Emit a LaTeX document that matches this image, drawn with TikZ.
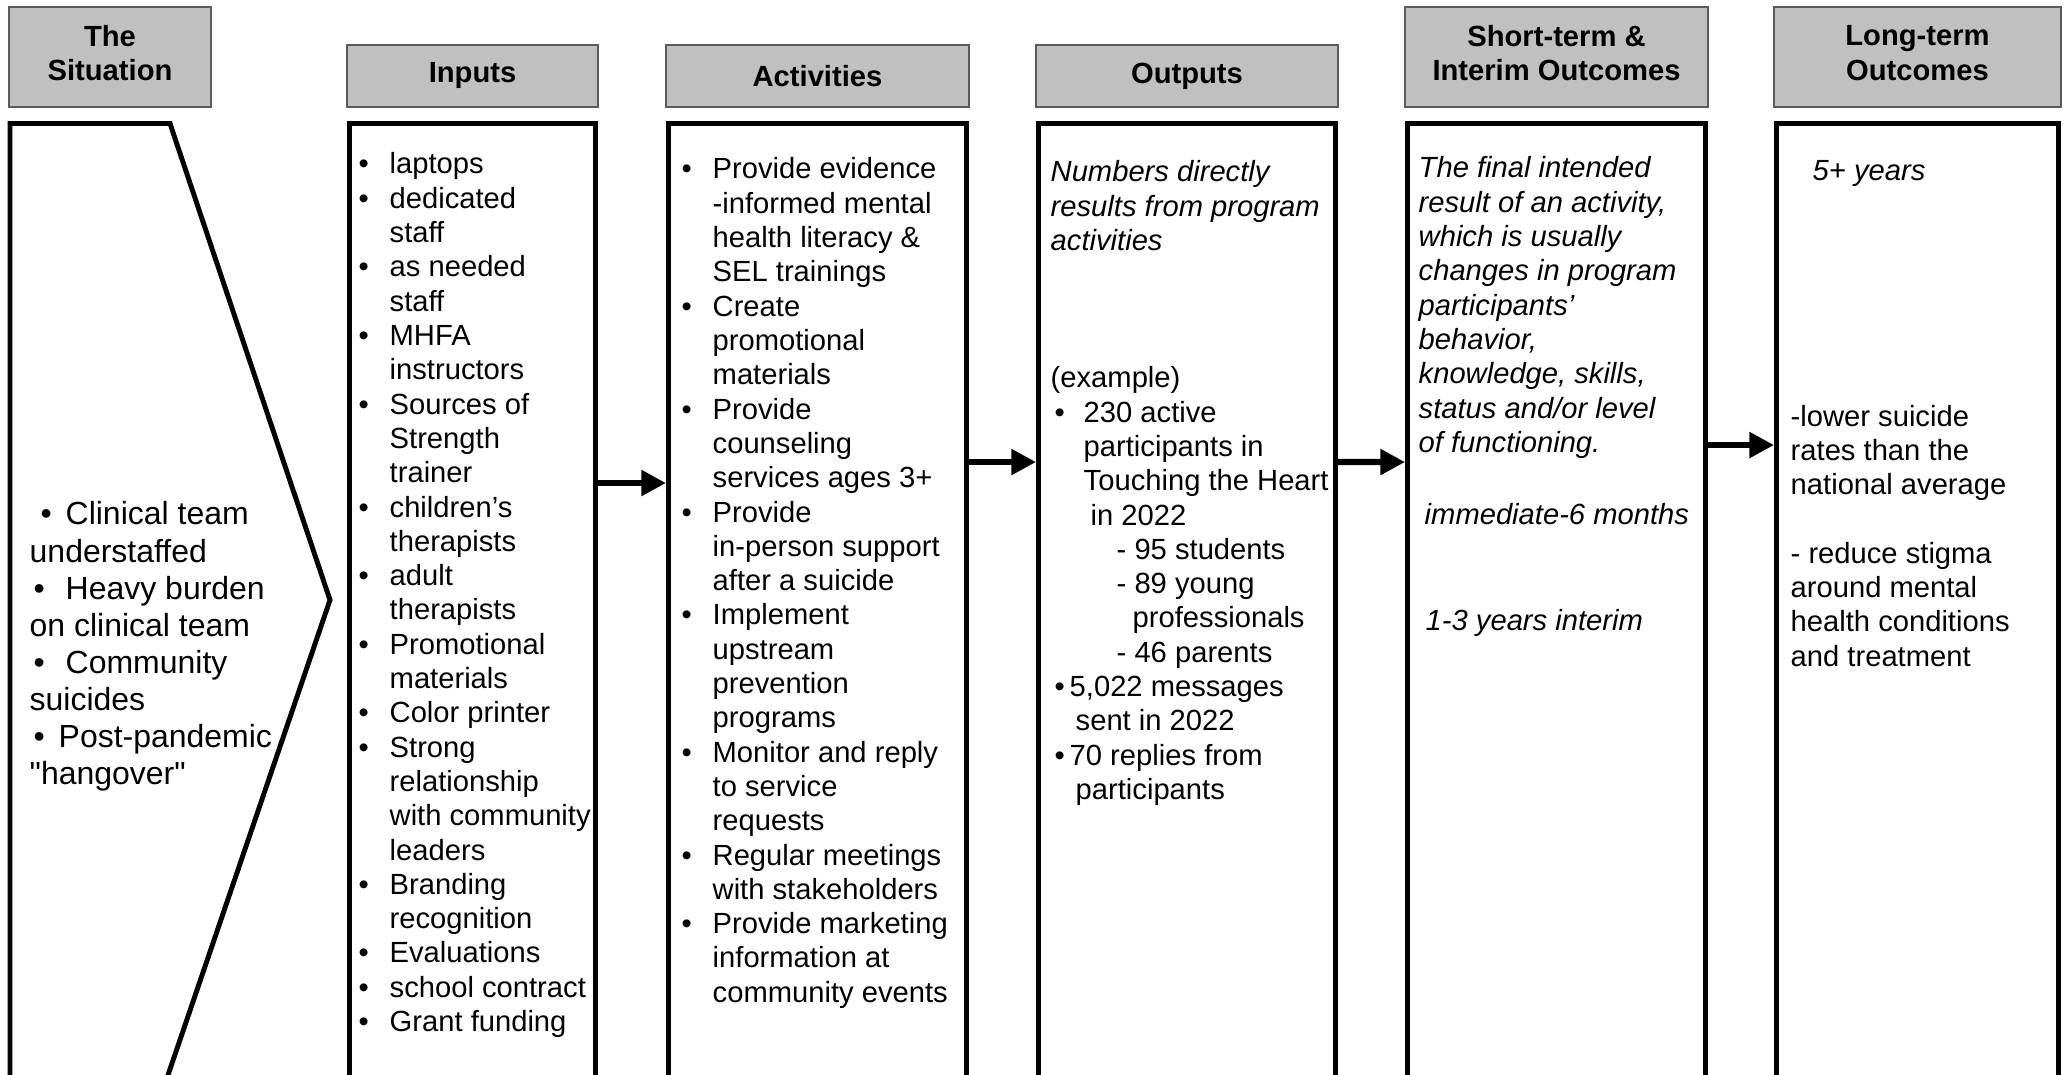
\documentclass[tikz,border=0pt]{standalone}
\usepackage{fontspec}
\setmainfont{Liberation Sans}
\newfontfamily\plainsans{Liberation Sans}
\usepackage{tikz}
\usetikzlibrary{arrows.meta,positioning}
\definecolor{headgray}{RGB}{192,192,192}
\definecolor{headline}{RGB}{90,90,90}
\tikzstyle{arrow} = [line width=1.8pt,-{Triangle[length=7pt,width=7pt]}]
\tikzstyle{header} = [rectangle, draw=headline, fill=headgray, line width=0.6pt, align=center, font=\fontsize{8.3}{9.76}\selectfont\bfseries]
\tikzstyle{bodybox} = [rectangle, draw=black, line width=1.4pt, minimum height=9.8cm]
\tikzstyle{bodytext} = [anchor=base west, inner sep=0pt, font=\fontsize{8.3}{9.76}\selectfont]
\newcommand{\bul}[1]{\makebox[#1][l]{\textbullet}}
\newcommand{\sq}{{\plainsans"}}

\begin{document}
\begin{tikzpicture}
\useasboundingbox (0,0) rectangle (20.67,-10.75);
\clip (0,0) rectangle (20.67,-10.75);

% Headers
\node[header, minimum width=2.02cm, minimum height=1.00cm, text depth=2.3pt] (sithead) at (1.10,-0.57) {The\\Situation};
\node[header, minimum width=2.51cm, minimum height=0.62cm] (inputshead) at (4.725,-0.76) {Inputs};
\node[header, minimum width=3.03cm, minimum height=0.62cm] (actshead) at (8.175,-0.76) {Activities};
\node[header, minimum width=3.02cm, minimum height=0.62cm] (outshead) at (11.87,-0.76) {Outputs};
\node[header, minimum width=3.03cm, minimum height=1.00cm, text depth=2.3pt] (shorthead) at (15.565,-0.57) {Short-term \&\\Interim Outcomes};
\node[header, minimum width=2.87cm, minimum height=1.00cm, text depth=2.3pt] (longhead) at (19.175,-0.57) {Long-term\\Outcomes};

% Situation chevron
\draw[line width=1.4pt] (0.10,-1.235) -- (1.70,-1.235) -- (3.30,-6.00) -- (1.67,-10.78) -- (0.10,-10.78) -- cycle;
\node[bodytext, font=\fontsize{9.1}{10.56}\selectfont] (sittext) at (0.29,-5.25) {%
\begin{tabular}[t]{@{}l@{}}
\hspace*{0.11cm}\bul{0.25cm}Clinical team\\
understaffed\\
\hspace*{0.04cm}\bul{0.32cm}Heavy burden\\
on clinical team\\
\hspace*{0.04cm}\bul{0.32cm}Community\\
suicides\\
\hspace*{0.04cm}\bul{0.25cm}Post-pandemic\\
\sq hangover\sq
\end{tabular}};

% Body boxes
\node[bodybox, minimum width=2.46cm, below=0.13cm of inputshead] (inputs) {};
\node[bodybox, minimum width=2.98cm, below=0.13cm of actshead] (acts) {};
\node[bodybox, minimum width=2.97cm, below=0.13cm of outshead] (outs) {};
\node[bodybox, minimum width=2.98cm, below=0.13cm of shorthead] (short) {};
\node[bodybox, minimum width=2.82cm, below=0.13cm of longhead] (long) {};

% Inputs
\node[bodytext] (inputstext) at (3.58,-1.74) {%
\begin{tabular}[t]{@{}p{0.31cm}@{}l@{}}
\textbullet & laptops\\
\textbullet & dedicated\\
 & staff\\
\textbullet & as needed\\
 & staff\\
\textbullet & MHFA\\
 & instructors\\
\textbullet & Sources of\\
 & Strength\\
 & trainer\\
\textbullet & children’s\\
 & therapists\\
\textbullet & adult\\
 & therapists\\
\textbullet & Promotional\\
 & materials\\
\textbullet & Color printer\\
\textbullet & Strong\\
 & relationship\\
 & with community\\
 & leaders\\
\textbullet & Branding\\
 & recognition\\
\textbullet & Evaluations\\
\textbullet & school contract\\
\textbullet & Grant funding
\end{tabular}};

% Activities
\node[bodytext] (actstext) at (6.81,-1.79) {%
\begin{tabular}[t]{@{}p{0.31cm}@{}l@{}}
\textbullet & Provide evidence\\
 & -informed mental\\
 & health literacy \&\\
 & SEL trainings\\
\textbullet & Create\\
 & promotional\\
 & materials\\
\textbullet & Provide\\
 & counseling\\
 & services ages 3+\\
\textbullet & Provide\\
 & in-person support\\
 & after a suicide\\
\textbullet & Implement\\
 & upstream\\
 & prevention\\
 & programs\\
\textbullet & Monitor and reply\\
 & to service\\
 & requests\\
\textbullet & Regular meetings\\
 & with stakeholders\\
\textbullet & Provide marketing\\
 & information at\\
 & community events
\end{tabular}};

% Outputs
\node[bodytext] (outstext) at (10.50,-1.82) {%
\begin{tabular}[t]{@{}l@{}}
\textit{Numbers directly}\\
\textit{results from program}\\
\textit{activities}\\ \\ \\ \\
(example)\\
\hspace*{0.04cm}\bul{0.29cm}230 active\\
\hspace*{0.33cm}participants in\\
\hspace*{0.33cm}Touching the Heart\\
\hspace*{0.40cm}in 2022\\
\hspace*{0.66cm}- 95 students\\
\hspace*{0.66cm}- 89 young\\
\hspace*{0.82cm}professionals\\
\hspace*{0.66cm}- 46 parents\\
\hspace*{0.04cm}\bul{0.15cm}5,022 messages\\
\hspace*{0.25cm}sent in 2022\\
\hspace*{0.04cm}\bul{0.15cm}70 replies from\\
\hspace*{0.25cm}participants
\end{tabular}};

% Short-term & interim outcomes
\node[bodytext] (shorttext) at (14.18,-1.78) {%
\begin{tabular}[t]{@{}l@{}}
\textit{The final intended}\\
\textit{result of an activity,}\\
\textit{which is usually}\\
\textit{changes in program}\\
\textit{participants’}\\
\textit{behavior,}\\
\textit{knowledge, skills,}\\
\textit{status and/or level}\\
\textit{of functioning.}\\ \\[1pt]
\hspace*{0.06cm}\textit{immediate-6 months}\\ \\ \\[1pt]
\hspace*{0.07cm}\textit{1-3 years interim}
\end{tabular}};

% Long-term outcomes
\node[bodytext] (longtext) at (17.90,-1.81) {%
\begin{tabular}[t]{@{}l@{}}
\hspace*{0.22cm}\textit{5+ years}\\ \\ \\ \\ \\ \\ \\[1.4pt]
-lower suicide\\
rates than the\\
national average\\ \\
- reduce stigma\\
around mental\\
health conditions\\
and treatment
\end{tabular}};

% Arrows
\draw[arrow] ([yshift=-3.62cm]inputs.north east) -- ([yshift=-3.62cm]acts.north west);
\draw[arrow] ([yshift=-3.41cm]acts.north east) -- ([yshift=-3.41cm]outs.north west);
\draw[arrow] ([yshift=-3.41cm]outs.north east) -- ([yshift=-3.41cm]short.north west);
\draw[arrow] ([yshift=-3.24cm]short.north east) -- ([yshift=-3.24cm]long.north west);
\end{tikzpicture}
\end{document}
